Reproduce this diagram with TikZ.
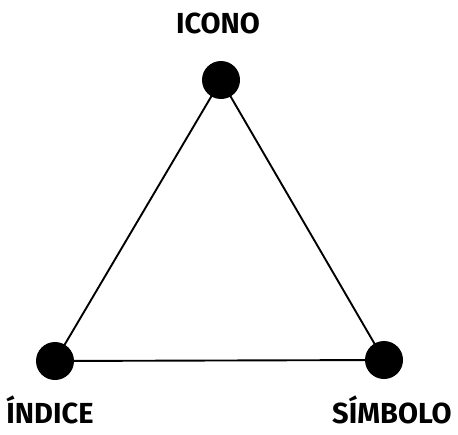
\documentclass[tikz,border=0pt]{standalone}
\usepackage{fontspec}
\setmainfont{Fira Sans}
\begin{document}
\begin{tikzpicture}[x=1pt,y=-1pt,
  dot/.style={circle,fill=black,draw=none,minimum size=38pt,inner sep=0pt},
  edge/.style={draw=black,line width=1.9pt},
  lbl/.style={font=\fontsize{29}{32}\selectfont\bfseries,inner sep=0pt,anchor=base}]
\useasboundingbox (0,0) rectangle (458,434);
\coordinate (ic) at (221,80);
\coordinate (in) at (55,361);
\coordinate (si) at (384,360);
\draw[edge] (ic) -- (in) -- (si) -- cycle;
\node[dot] (icd) at (ic) {};
\node[dot] (ind) at (in) {};
\node[dot] (sid) at (si) {};
\node[lbl] (icl) at (218,33) {ICONO};
\node[lbl] (inl) at (50,423) {ÍNDICE};
\node[lbl] (sil) at (392,423) {SÍMBOLO};
\end{tikzpicture}
\end{document}
